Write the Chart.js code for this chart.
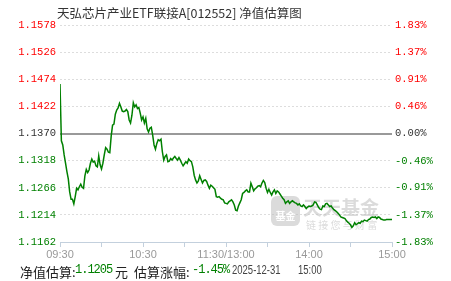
<!DOCTYPE html>
<html>
<head>
<meta charset="utf-8">
<script src="https://cdn.jsdelivr.net/npm/chart.js@4.4.1/dist/chart.umd.min.js"></script>
<style>
  body { margin: 0; background: #fff; }
  #wrap { position: relative; width: 451px; height: 281px; overflow: hidden; }
  #title { position: absolute; left: 57px; top: 3px; font: 12.5px "Noto Sans CJK SC"; color: #333; white-space: nowrap; }
  .info { position: absolute; top: 262px; font: 13px "Noto Sans CJK SC"; color: #222; white-space: nowrap; }
  .g { color: #008000; font-family: "Liberation Mono"; font-size: 12px; letter-spacing: -1px; top: 263px; }
  .d { font-family: "Liberation Sans"; font-size: 12.5px; color: #444; top: 263px; transform: scaleX(0.76); transform-origin: 0 0; }
</style>
</head>
<body>
<div id="wrap">
  <canvas id="mycanvas" width="451" height="281"></canvas>
  <div id="title">天弘芯片产业ETF联接A[012552] 净值估算图</div>
  <span class="info" style="left:20px">净值估算:</span>
  <span class="info g" style="left:75px">1.1205</span>
  <span class="info" style="left:115px">元</span>
  <span class="info" style="left:134px">估算涨幅:</span>
  <span class="info g" style="left:192px">-1.45%</span>
  <span class="info d" style="left:232px">2025-12-31</span>
  <span class="info d" style="left:298px">15:00</span>
</div>
<script>
// prior NAV (0.00% line)
var base = 1.1370;
var leftTicks = [1.1578, 1.1526, 1.1474, 1.1422, 1.1370, 1.1318, 1.1266, 1.1214, 1.1162];
var rightTicks = [1.83, 1.37, 0.91, 0.46, 0.00, -0.46, -0.91, -1.37, -1.83];
var timeLabels = ['09:30', '10:30', '11:30/13:00', '14:00', '15:00'];

// estimated NAV, one value per trading minute from 09:30 (index 0) to 15:00 (index 240)
var nav = [
  1.1465, 1.1356, 1.1348, 1.1329, 1.1313, 1.1297, 1.1283, 1.1258, 1.1244, 1.1244,
  1.1235, 1.1249, 1.1265, 1.1262, 1.1268, 1.1273, 1.1267, 1.1265, 1.1289, 1.1301,
  1.1295, 1.1300, 1.1313, 1.1321, 1.1315, 1.1317, 1.1308, 1.1306, 1.1327, 1.1310,
  1.1302, 1.1313, 1.1329, 1.1343, 1.1340, 1.1334, 1.1333, 1.1365, 1.1386, 1.1388,
  1.1407, 1.1415, 1.1419, 1.1428, 1.1421, 1.1413, 1.1412, 1.1413, 1.1416, 1.1412,
  1.1396, 1.1390, 1.1405, 1.1429, 1.1421, 1.1425, 1.1418, 1.1420, 1.1409, 1.1396,
  1.1402, 1.1390, 1.1399, 1.1379, 1.1373, 1.1380, 1.1382, 1.1367, 1.1348, 1.1340,
  1.1351, 1.1358, 1.1356, 1.1359, 1.1335, 1.1319, 1.1326, 1.1329, 1.1316, 1.1317,
  1.1322, 1.1319, 1.1323, 1.1326, 1.1322, 1.1319, 1.1324, 1.1319, 1.1313, 1.1308,
  1.1312, 1.1316, 1.1313, 1.1321, 1.1318, 1.1316, 1.1306, 1.1290, 1.1281, 1.1275,
  1.1279, 1.1289, 1.1282, 1.1275, 1.1280, 1.1281, 1.1278, 1.1271, 1.1265, 1.1271,
  1.1269, 1.1266, 1.1263, 1.1249, 1.1248, 1.1249, 1.1246, 1.1244, 1.1243, 1.1237,
  1.1236, 1.1235, 1.1239, 1.1241, 1.1243, 1.1239, 1.1233, 1.1223, 1.1222, 1.1231,
  1.1237, 1.1243, 1.1255, 1.1257, 1.1260, 1.1262, 1.1258, 1.1258, 1.1275, 1.1268,
  1.1260, 1.1264, 1.1266, 1.1269, 1.1270, 1.1268, 1.1275, 1.1280, 1.1276, 1.1265,
  1.1257, 1.1263, 1.1257, 1.1252, 1.1258, 1.1262, 1.1255, 1.1260, 1.1258, 1.1254,
  1.1250, 1.1246, 1.1243, 1.1236, 1.1239, 1.1241, 1.1236, 1.1239, 1.1241, 1.1239,
  1.1237, 1.1236, 1.1233, 1.1235, 1.1231, 1.1230, 1.1233, 1.1230, 1.1226, 1.1229,
  1.1231, 1.1230, 1.1231, 1.1233, 1.1239, 1.1238, 1.1233, 1.1228, 1.1225, 1.1224,
  1.1231, 1.1230, 1.1235, 1.1236, 1.1233, 1.1230, 1.1231, 1.1227, 1.1224, 1.1222,
  1.1220, 1.1217, 1.1214, 1.1210, 1.1209, 1.1208, 1.1207, 1.1203, 1.1200, 1.1198,
  1.1195, 1.1190, 1.1193, 1.1199, 1.1195, 1.1197, 1.1199, 1.1198, 1.1202, 1.1201,
  1.1204, 1.1203, 1.1202, 1.1205, 1.1206, 1.1209, 1.1210, 1.1209, 1.1210, 1.1207,
  1.1210, 1.1209, 1.1206, 1.1205, 1.1204, 1.1204, 1.1205, 1.1205, 1.1205, 1.1205,
  1.1205
];

var RED = '#ff0000', GREEN = '#008000', DARK = '#333333';

function tickColor(v, zero) {
  if (Math.abs(v - zero) < 1e-9) return DARK;
  return v > zero ? RED : GREEN;
}

var points = [];
for (var i = 0; i < nav.length; i++) {
  points.push({ x: i, y: nav[i] });
}

// faint site logo in the lower right of the plot
var watermark = {
  id: 'watermark',
  beforeDatasetsDraw: function(chart) {
    var c = chart.ctx;
    c.save();
    c.fillStyle = 'rgba(190,190,190,0.55)';
    c.beginPath();
    c.roundRect(271, 196, 29, 30, 6);
    c.fill();
    c.fillStyle = '#ffffff';
    c.font = 'bold 10px "Noto Sans CJK SC"';
    c.textAlign = 'center';
    c.fillText('基金', 285.5, 220);
    c.fillStyle = 'rgba(190,190,190,0.55)';
    c.textAlign = 'left';
    c.font = 'bold 19px "Noto Sans CJK SC"';
    c.fillText('天天基金', 303, 215);
    c.font = '10px "Noto Sans CJK SC"';
    c.fillText('链 接 您 与 财 富', 306, 229);
    c.restore();
  }
};

var ctx = document.getElementById('mycanvas');

var chart = new Chart(ctx, {
  type: 'line',
  data: {
    datasets: [{
      label: '估算净值',
      data: points,
      borderColor: GREEN,
      borderWidth: 1.5,
      pointRadius: 0,
      tension: 0,
      fill: false
    }]
  },
  options: {
    responsive: false,
    animation: false,
    layout: { padding: { top: 25, right: 0, bottom: 0, left: 0 } },
    plugins: {
      legend: { display: false },
      tooltip: { enabled: false },
      title: { display: false }
    },
    scales: {
      x: {
        type: 'linear',
        min: 0,
        max: 240,
        afterFit: function(s) { s.height = 39; },
        afterBuildTicks: function(s) {
          var t = [];
          for (var m = 0; m <= 240; m += 30) t.push({ value: m });
          s.ticks = t;
        },
        ticks: {
          autoSkip: false,
          maxRotation: 0,
          padding: 1,
          color: '#999999',
          font: { family: 'Liberation Sans', size: 11 },
          callback: function(v) { return v % 60 === 0 ? timeLabels[v / 60] : ''; }
        },
        grid: { drawOnChartArea: false, color: '#c3d0dd', tickLength: 5 },
        border: { display: true, color: '#c3d0dd', width: 1 }
      },
      y: {
        position: 'left',
        min: leftTicks[leftTicks.length - 1],
        max: leftTicks[0],
        afterFit: function(s) { s.width = 60; },
        afterBuildTicks: function(s) {
          s.ticks = leftTicks.map(function(v) { return { value: v }; });
        },
        ticks: {
          padding: 4,
          font: { family: 'Liberation Mono', size: 10.5 },
          color: function(c) { return tickColor(c.tick.value, base); },
          callback: function(v) { return v.toFixed(4); }
        },
        grid: {
          drawTicks: false,
          color: function(c) {
            if (!c.tick) return '#e0e0e0';
            if (Math.abs(c.tick.value - base) < 1e-9) return '#999999';
            if (c.index === leftTicks.length - 1) return 'rgba(0,0,0,0)';
            return '#dddddd';
          },
          lineWidth: function(c) {
            return c.tick && Math.abs(c.tick.value - base) < 1e-9 ? 2 : 1;
          }
        },
        border: {
          display: false,
          dash: function(c) {
            return c.tick && Math.abs(c.tick.value - base) < 1e-9 ? [] : [2, 2];
          }
        }
      },
      y2: {
        position: 'right',
        min: rightTicks[rightTicks.length - 1],
        max: rightTicks[0],
        afterFit: function(s) { s.width = 59; },
        afterBuildTicks: function(s) {
          s.ticks = rightTicks.map(function(v) { return { value: v }; });
        },
        ticks: {
          padding: 3,
          font: { family: 'Liberation Mono', size: 10.5 },
          color: function(c) { return tickColor(c.tick.value, 0); },
          callback: function(v) { return v.toFixed(2) + '%'; }
        },
        grid: { display: false, drawTicks: false },
        border: { display: false }
      }
    }
  },
  plugins: [watermark]
});
</script>
</body>
</html>
